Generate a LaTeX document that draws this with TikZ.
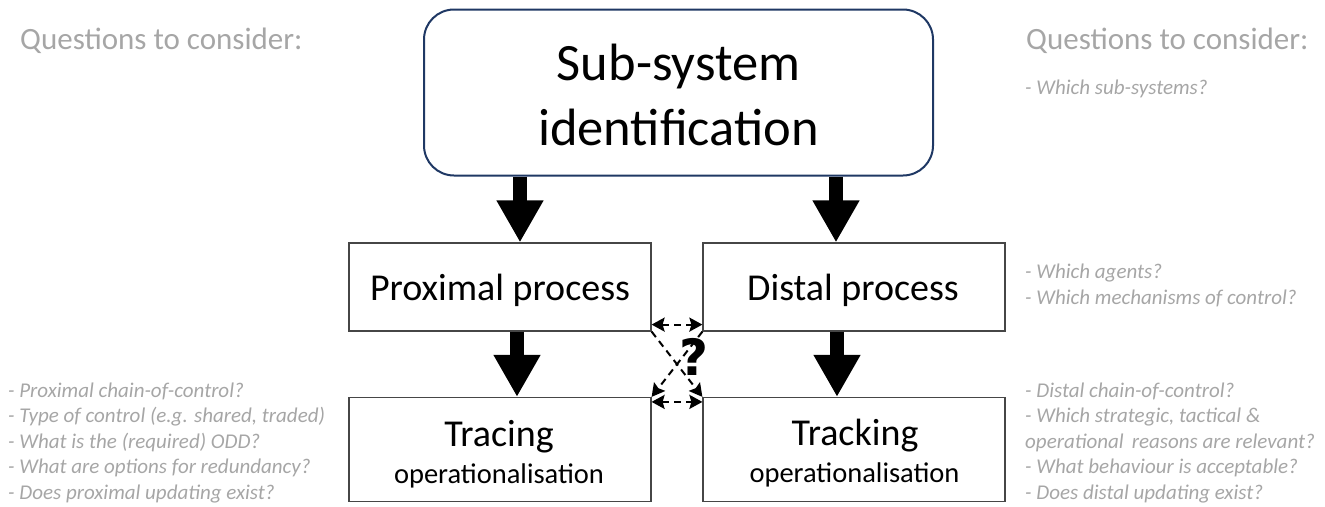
\documentclass[tikz,border=0pt]{standalone}
\usepackage{fontspec}
\setmainfont{Carlito}
\newfontfamily\qmarkfont{DejaVu Sans}
\usetikzlibrary{arrows.meta}
\definecolor{qgray}{RGB}{166,166,166}
\definecolor{navy}{RGB}{31,56,100}
\definecolor{edgegray}{RGB}{70,70,70}
\begin{document}
\begin{tikzpicture}[x=1pt,y=-1pt,
  box/.style={draw=edgegray, line width=1.2pt, minimum width=302pt, inner sep=0pt},
  topbox/.style={draw=navy, line width=2pt, rounded corners=30pt, minimum width=509pt, minimum height=166pt, inner sep=0pt},
  txt/.style={anchor=base, inner sep=0pt, font=\fontsize{38}{44}\selectfont},
  small/.style={anchor=base, inner sep=0pt, font=\fontsize{28.5}{34}\selectfont},
  head/.style={anchor=base west, inner sep=0pt, text=qgray, font=\fontsize{31}{36}\selectfont},
  qlist/.style={anchor=base west, inner sep=0pt, text=qgray, align=left, font=\fontsize{21}{25.5}\selectfont\itshape},
  blockarrow/.style={line width=14pt, -{Triangle[width=44pt 0 0, length=42pt 0 0]}},
  dasharrow/.style={line width=2pt, dash pattern=on 7pt off 5pt, {Stealth[length=13pt,width=14pt,inset=2pt]}-{Stealth[length=13pt,width=14pt,inset=2pt]}},
  diagarrow/.style={line width=2pt, dash pattern=on 7pt off 5pt, -{Stealth[length=13pt,width=14pt,inset=2pt]}}
]
\useasboundingbox (0,0) rectangle (1325,506);

% boxes
\node[topbox] (top) at (678.5,92.5) {};
\node[box, minimum height=88pt] (prox) at (500,287) {};
\node[box, minimum height=88pt] (dist) at (854,287) {};
\node[box, minimum height=104pt] (trac) at (500,449.5) {};
\node[box, minimum height=104pt] (track) at (854,449.5) {};

% box texts
\node[anchor=base, inner sep=0pt, font=\fontsize{52.5}{60}\selectfont] (t1) at (678.5,80) {Sub-system};
\node[anchor=base, inner sep=0pt, font=\fontsize{52.5}{60}\selectfont] (t2) at (678.5,145) {identification};
\node[txt] (ptxt) at (500,300) {Proximal process};
\node[txt] (dtxt) at (853,300) {Distal process};
\node[txt] (trtxt) at (499,446) {Tracing};
\node[small] (trsub) at (499,483) {operationalisation};
\node[txt] (tktxt) at (855,445) {Tracking};
\node[small] (tksub) at (854.5,482) {operationalisation};

% block arrows
\draw[blockarrow] ([xshift=20pt]prox.north |- top.south) -- ([xshift=20pt]prox.north);
\draw[blockarrow] ([xshift=-18pt]dist.north |- top.south) -- ([xshift=-18pt]dist.north);
\draw[blockarrow] ([xshift=17pt]prox.south) -- ([xshift=17pt]trac.north);
\draw[blockarrow] ([xshift=-17pt]dist.south) -- ([xshift=-17pt]track.north);

% dashed arrows
\draw[dasharrow] ([yshift=7pt]prox.south east) -- ([yshift=7pt]dist.south west);
\draw[dasharrow] ([yshift=-5pt]trac.north east) -- ([yshift=-5pt]track.north west);
\draw[diagarrow] (prox.south east) -- (track.north west);
\draw[diagarrow] (dist.south west) -- (trac.north east);
\node[inner sep=0pt, font=\qmarkfont\bfseries\fontsize{50}{54}\selectfont] (q) at (694,357) {?};

% questions
\node[head] (hl) at (20,49) {Questions to consider:};
\node[head] (hr) at (1026,49) {Questions to consider:};
\node[qlist] (qs) at (1025,94) {- Which sub-systems?};
\node[qlist] (qa) at (1025,304) {- Which agents?\\- Which mechanisms of control?};
\node[qlist] (ql) at (8,499) {- Proximal chain-of-control?\\- Type of control (e.g. shared, traded)\\- What is the (required) ODD?\\- What are options for redundancy?\\- Does proximal updating exist?};
\node[qlist] (qr) at (1025,499) {- Distal chain-of-control?\\- Which strategic, tactical \&\\operational\, reasons are relevant?\\- What behaviour is acceptable?\\- Does distal updating exist?};
\end{tikzpicture}
\end{document}
